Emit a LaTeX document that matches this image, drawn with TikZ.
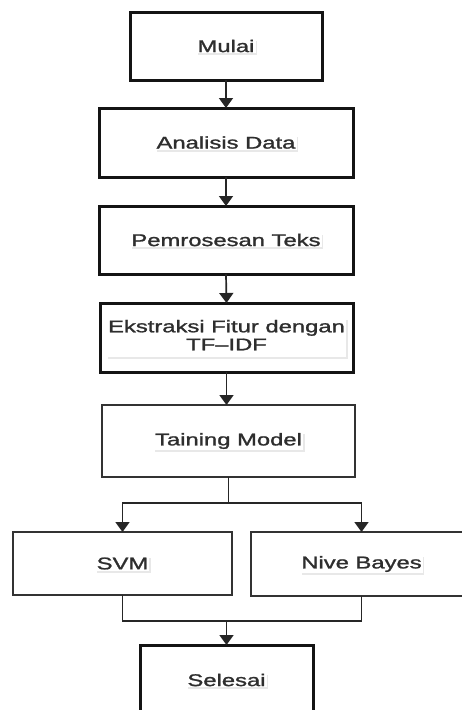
\documentclass[tikz,border=0pt]{standalone}
\usepackage{fontspec}
\setmainfont{Liberation Sans}
\newfontfamily\labfont{Liberation Sans}[FakeBold=1.2,Ligatures=TeX]
\usetikzlibrary{arrows.meta,shadows,calc}
\newcommand{\wide}[1]{\scalebox{1.4}[1]{#1}}
\begin{document}
\begin{tikzpicture}[x=1pt,y=-1pt,
  box/.style={draw=black!92,fill=white,inner sep=0pt,outer sep=0pt,minimum width=#1},
  heavy/.style={line width=3pt},
  light/.style={line width=1.6pt,draw=black!80},
  txt/.style={fill=white,inner sep=1.2pt,text=black!82,
    font=\labfont\fontsize{17}{19}\selectfont,
    drop shadow={shadow xshift=1.5pt,shadow yshift=-2pt,opacity=0.15,fill=black!60}},
  conn/.style={line width=1.7pt,draw=black!85},
  arr/.style={conn,-{Triangle[length=10pt,width=14pt]}}]
\useasboundingbox (0,0) rectangle (462,710);
\fill[white] (0,0) rectangle (462,710);

\node[box=192pt,heavy,minimum height=68pt,label={[txt]center:\wide{Mulai}}] (mulai) at (226,46) {};
\node[box=254pt,heavy,minimum height=69pt,label={[txt]center:\wide{Analisis Data}}] (analisis) at (226,142.5) {};
\node[box=254pt,heavy,minimum height=68pt,label={[txt]center:\wide{Pemrosesan Teks}}] (pemro) at (226,240) {};
\node[box=253pt,heavy,minimum height=69pt,label={[txt]center:\wide{\begin{tabular}{@{}c@{}}Ekstraksi Fitur dengan\\[-1pt]TF–IDF\end{tabular}}}] (ekstr) at (226.5,337.5) {};
\node[box=253pt,light,minimum height=72pt,label={[txt]center:\wide{Taining Model}}] (train) at (228.5,441) {};
\node[box=219pt,light,minimum height=63pt,label={[txt]center:\wide{SVM}}] (svm) at (122.5,563.5) {};
\node[box=221pt,light,minimum height=64pt,label={[txt]center:\wide{Nive Bayes}}] (nb) at (361.5,564) {};
\node[box=173pt,heavy,minimum height=70pt,label={[txt]center:\wide{Selesai}}] (selesai) at (226.5,680) {};

\coordinate (split) at ($(train.south)+(0,26)$);
\coordinate (join) at ($(selesai.north)+(0,-24)$);

\draw[arr] (mulai.south) -- (analisis.north);
\draw[arr] (analisis.south) -- (pemro.north);
\draw[arr] (pemro.south) -- (ekstr.north);
\draw[arr] (ekstr.south) -- (ekstr.south |- train.north);
\draw[conn] (train.south) -- (split);
\draw[arr] (split) -| (svm.north);
\draw[arr] (split) -| (nb.north);
\draw[conn] (svm.south) |- (join) -| (nb.south);
\draw[arr] (join) -- (selesai.north);
\end{tikzpicture}
\end{document}
